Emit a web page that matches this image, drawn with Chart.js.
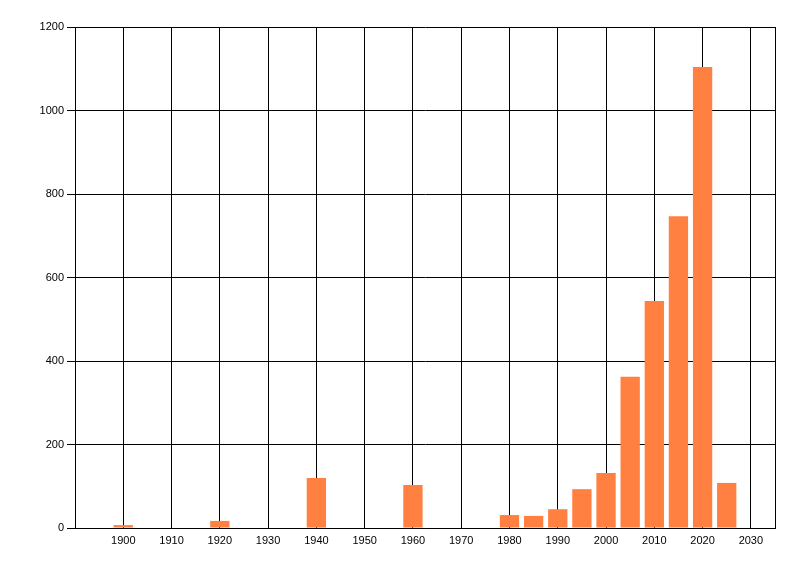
<!DOCTYPE html>
<html><head><meta charset="utf-8">
<script src="https://cdn.jsdelivr.net/npm/chart.js@4/dist/chart.umd.min.js"></script>
<style>html,body{margin:0;padding:0;background:#fff}#wrap{width:800px;height:576px;position:relative}</style>
</head><body><div id="wrap"><canvas id="c"></canvas></div>
<script>
const years = [1900, 1920, 1940, 1960, 1980, 1985, 1990, 1995, 2000, 2005, 2010, 2015, 2020, 2025];
const counts = [7, 17, 120, 103, 31, 29, 45, 93, 132, 362, 544, 747, 1104, 108];
const xTickLabels = [1900, 1910, 1920, 1930, 1940, 1950, 1960, 1970, 1980, 1990, 2000, 2010, 2020, 2030];
const yTickLabels = [0, 200, 400, 600, 800, 1000, 1200];
const xMin = 1890, xMax = 2035;

const tickFont = { family: 'Liberation Sans, Arial, sans-serif', size: 11 };

new Chart(document.getElementById('c'), {
  type: 'bar',
  data: {
    datasets: [{
      data: years.map((y, i) => ({ x: y, y: counts[i] })),
      backgroundColor: '#FF8040',
      borderWidth: 0,
      categoryPercentage: 1,
      barPercentage: 0.8
    }]
  },
  options: {
    responsive: true,
    maintainAspectRatio: false,
    animation: false,
    layout: { padding: { left: 0, top: 27, right: 25, bottom: 0 } },
    plugins: { legend: { display: false }, tooltip: { enabled: false } },
    scales: {
      x: {
        type: 'linear',
        offset: false,
        min: xMin,
        max: xMax,
        afterBuildTicks: s => { s.ticks = [xMin].concat(xTickLabels, [xMax]).map(v => ({ value: v })); },
        afterFit: s => { s.height = 48; },
        ticks: {
          autoSkip: false,
          maxRotation: 0,
          color: '#000',
          font: tickFont,
          padding: 6,
          callback: v => xTickLabels.includes(v) ? String(v) : ''
        },
        grid: { color: '#000', lineWidth: 1, drawTicks: false, offset: false },
        border: { color: '#000', width: 1 }
      },
      y: {
        min: 0,
        max: 1200,
        afterBuildTicks: s => { s.ticks = yTickLabels.map(v => ({ value: v })); },
        afterFit: s => { s.width = 75; },
        ticks: { color: '#000', font: tickFont, padding: 3, callback: v => String(v) },
        grid: { color: '#000', lineWidth: 1, tickLength: 8 },
        border: { color: '#000', width: 1 }
      }
    }
  }
});
</script>
</body></html>
